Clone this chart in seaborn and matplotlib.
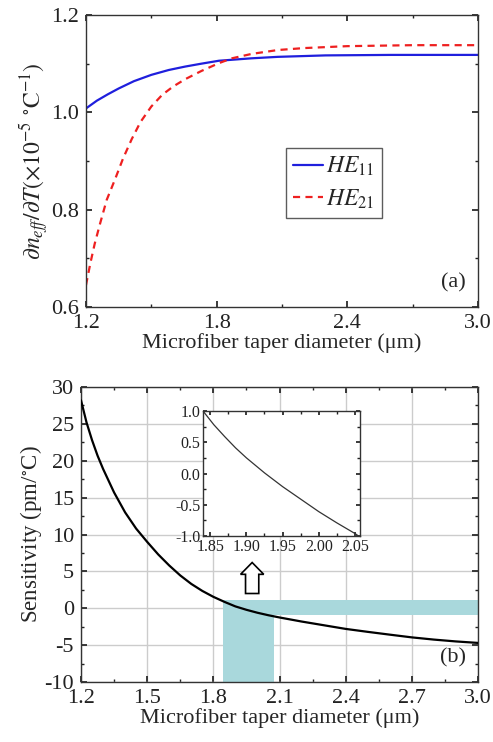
import matplotlib
matplotlib.use("Agg")
import matplotlib.pyplot as plt
import seaborn as sns
import pandas as pd
import numpy as np
from matplotlib.ticker import MultipleLocator
from matplotlib.patches import FancyArrow

sns.set_theme(style="ticks")
plt.rcParams["font.family"] = ["Liberation Serif", "DejaVu Serif"]
plt.rcParams["mathtext.fontset"] = "stix"
plt.rcParams["axes.unicode_minus"] = False

# (a) thermo-optic derivative vs diameter
d_he11 = [1.2, 1.25, 1.3, 1.35, 1.42, 1.5, 1.58, 1.655, 1.73, 1.81, 1.96, 2.08, 2.3, 2.6, 3.0]
v_he11 = [1.008, 1.024, 1.037, 1.049, 1.064, 1.077, 1.087, 1.094, 1.100, 1.106, 1.111, 1.114, 1.117, 1.118, 1.118]
d_he21 = [1.2, 1.22, 1.24, 1.265, 1.295, 1.333, 1.37, 1.41, 1.45, 1.5, 1.55, 1.6, 1.655, 1.73,
          1.81, 1.87, 1.96, 2.08, 2.2, 2.4, 2.7, 3.0]
v_he21 = [0.645, 0.69, 0.73, 0.772, 0.82, 0.862, 0.905, 0.945, 0.98, 1.012, 1.036, 1.053, 1.068, 1.085,
          1.101, 1.111, 1.120, 1.128, 1.132, 1.136, 1.138, 1.138]

# (b) sensitivity vs diameter
d_sens = [1.2, 1.225, 1.25, 1.275, 1.3, 1.35, 1.4, 1.45, 1.5, 1.55, 1.6, 1.65, 1.7, 1.75, 1.8, 1.85,
          1.9, 1.95, 2.0, 2.05, 2.1, 2.2, 2.3, 2.4, 2.5, 2.6, 2.7, 2.8, 2.9, 3.0]
v_sens = [28.2, 25.2, 22.8, 20.7, 18.9, 15.7, 13.0, 10.8, 9.0, 7.3, 5.8, 4.45, 3.3, 2.35, 1.55, 0.87,
          0.25, -0.21, -0.61, -0.95, -1.25, -1.8, -2.3, -2.8, -3.2, -3.58, -3.95, -4.25, -4.5, -4.7]

# inset: zoomed section
d_ins = [1.84, 1.855, 1.87, 1.885, 1.90, 1.925, 1.95, 1.975, 2.00, 2.025, 2.05, 2.055]
v_ins = [1.0, 0.78, 0.59, 0.41, 0.25, 0.01, -0.21, -0.41, -0.61, -0.79, -0.96, -1.0]

fig = plt.figure(figsize=(4.93, 7.42), dpi=100)
W, H = 493, 742
ax1 = fig.add_axes([86 / W, 1 - 307 / H, (478 - 86) / W, (307 - 15) / H])
ax2 = fig.add_axes([81 / W, 1 - 682 / H, (478 - 81) / W, (682 - 387) / H])
ax3 = fig.add_axes([203 / W, 1 - 536 / H, (360 - 203) / W, (536 - 411) / H])

fs = 16


def style(ax, size, pad=5):
    ax.tick_params(which="both", direction="in", top=True, right=True, labelsize=size,
                   colors="#222222", pad=pad)
    ax.tick_params(which="major", length=4)
    ax.tick_params(which="minor", length=2)
    for s in ax.spines.values():
        s.set_color("#333333")
        s.set_linewidth(1.0)


sns.lineplot(x=d_he11, y=v_he11, ax=ax1, color="#1f1fdd", lw=1.6, label="$HE_{11}$")
sns.lineplot(x=d_he21, y=v_he21, ax=ax1, color="#ee2020", lw=1.6, ls=(0, (3.2, 2.4)), label="$HE_{21}$")
ax1.set_xlim(1.2, 3.0)
ax1.set_ylim(0.6, 1.2)
ax1.xaxis.set_major_locator(MultipleLocator(0.6))
ax1.xaxis.set_minor_locator(MultipleLocator(0.3))
ax1.yaxis.set_major_locator(MultipleLocator(0.2))
ax1.yaxis.set_minor_locator(MultipleLocator(0.1))
ax1.set_xlabel("Microfiber taper diameter (\u03bcm)", fontsize=fs, labelpad=0)
ax1.set_ylabel(r"$\partial n_{eff}/\partial T(\times 10^{-5}\ ^{\circ}\mathrm{C}^{-1})$", fontsize=17, labelpad=0)
style(ax1, fs)
leg = ax1.legend(loc="upper left", bbox_to_anchor=(0.51, 0.545), fontsize=17, frameon=True,
                 fancybox=False, edgecolor="#333333", handlelength=1.25, handletextpad=0.15,
                 borderpad=0.3, labelspacing=0.4, borderaxespad=0)
leg.get_frame().set_linewidth(1.0)
ax1.text(0.97, 0.05, "(a)", transform=ax1.transAxes, ha="right", va="bottom", fontsize=fs)

# (b)
band = "#a9d8dc"
ax2.axvspan(1.843, 2.076, ymin=0, ymax=(1.1 + 10) / 40, color=band, lw=0, zorder=1)
ax2.fill_between([1.843, 3.0], [-0.95, -0.95], [1.1, 1.1], color=band, lw=0, zorder=1)
sns.lineplot(x=d_sens, y=v_sens, ax=ax2, color="black", lw=1.6, zorder=3)
ax2.set_xlim(1.2, 3.0)
ax2.set_ylim(-10, 30)
ax2.xaxis.set_major_locator(MultipleLocator(0.3))
ax2.xaxis.set_minor_locator(MultipleLocator(0.15))
ax2.yaxis.set_major_locator(MultipleLocator(5))
ax2.yaxis.set_minor_locator(MultipleLocator(2.5))
ax2.grid(True, which="major", color="#cccccc", lw=1.0, zorder=0)
ax2.set_axisbelow(True)
ax2.set_xlabel("Microfiber taper diameter (\u03bcm)", fontsize=fs, labelpad=0)
ax2.set_ylabel("Sensitivity (pm/$^{\\circ}$C)", fontsize=16.5, labelpad=0)
style(ax2, fs)
ax2.text(0.97, 0.05, "(b)", transform=ax2.transAxes, ha="right", va="bottom", fontsize=fs)
arrow = FancyArrow(1.976, 2.0, 0, 4.2, width=0.06, head_width=0.105, head_length=1.6,
                   length_includes_head=True, facecolor="white", edgecolor="black", lw=1.2, zorder=5)
ax2.add_patch(arrow)

# inset
sns.lineplot(x=d_ins, y=v_ins, ax=ax3, color="#333333", lw=0.9)
ax3.set_xlim(1.84, 2.057)
ax3.set_ylim(-1.0, 1.0)
ax3.xaxis.set_minor_locator(MultipleLocator(0.025))
ax3.yaxis.set_minor_locator(MultipleLocator(0.25))
ax3.set_xticks([1.85, 1.90, 1.95, 2.00, 2.05])
ax3.set_xticklabels(["1.85", "1.90", "1.95", "2.00", "2.05"])
ax3.set_yticks([-1.0, -0.5, 0.0, 0.5, 1.0])
ax3.set_yticklabels(["-1.0", "-0.5", "0.0", "0.5", "1.0"])
style(ax3, 11.5, pad=2)
ax3.tick_params(which="major", length=3)
ax3.set_facecolor("white")

fig.savefig("out.png", dpi=100)
